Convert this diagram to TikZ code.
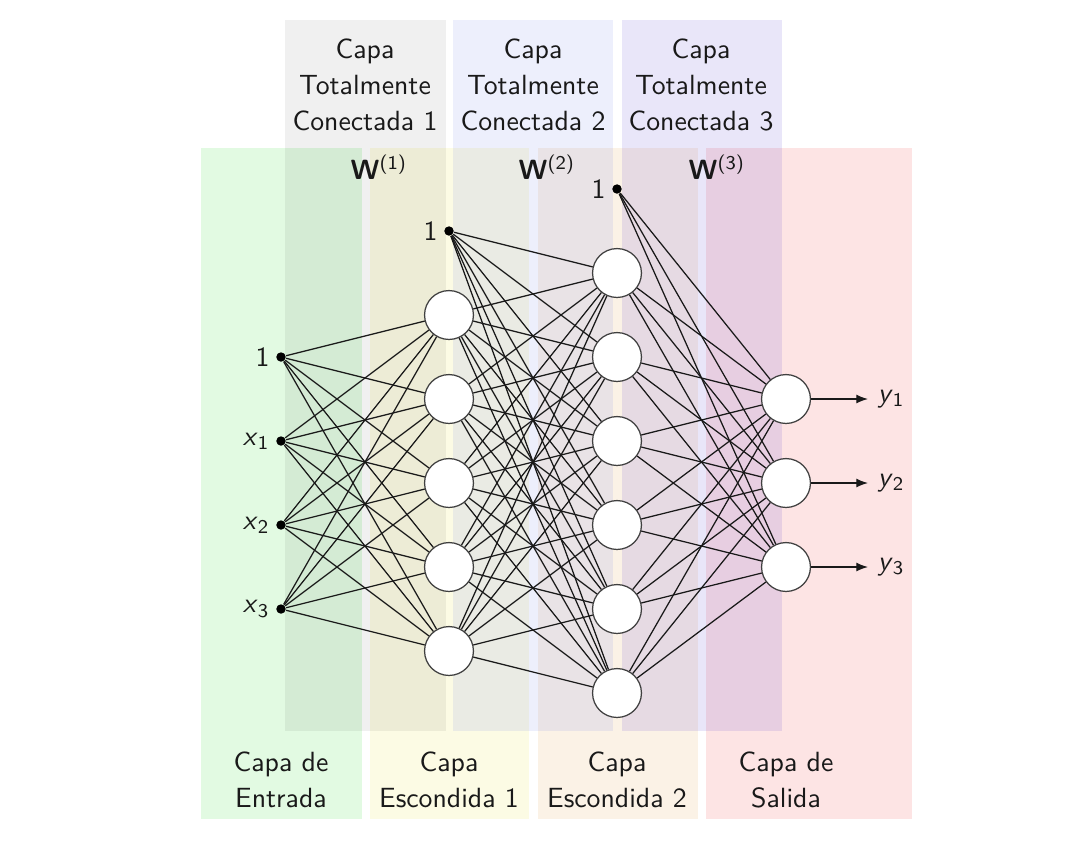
\documentclass[tikz,border=0pt]{standalone}
\usetikzlibrary{arrows.meta}
\definecolor{cgreen}{RGB}{226,250,226}
\definecolor{cyellow}{RGB}{252,251,228}
\definecolor{corange}{RGB}{251,242,230}
\definecolor{cred}{RGB}{253,228,228}
\definecolor{cblue}{RGB}{80,100,230}
\definecolor{cpurple}{RGB}{80,50,210}
\begin{document}
\begin{tikzpicture}[x=0.36pt,y=-0.36pt,
  font=\sffamily\fontsize{10}{13}\selectfont,
  neuron/.style={circle,draw=black!75,fill=white,line width=0.45pt,minimum size=17.6pt,inner sep=0pt},
  biasdot/.style={circle,fill=black,minimum size=3.4pt,inner sep=0pt},
  edge/.style={line width=0.45pt,black!90},
  outarrow/.style={line width=0.45pt,black!90,-{Latex[length=4.2pt,width=3.2pt]}},
  boxtitle/.style={align=center,text=black!90},
  lbl/.style={text=black!90}]
\useasboundingbox (0,0) rectangle (1072,844);
\fill[white] (0,0) rectangle (1072,844);
% layer backgrounds
\fill[cgreen] (201,148) rectangle (362,819);
\fill[cyellow] (370,148) rectangle (529,819);
\fill[corange] (538,148) rectangle (698,819);
\fill[cred] (706,148) rectangle (912,819);
% fully connected boxes
\fill[black,fill opacity=0.06] (285,20) rectangle (446,731);
\fill[cblue,fill opacity=0.10] (453,20) rectangle (613,731);
\fill[cpurple,fill opacity=0.12] (622,20) rectangle (782,731);
% titles
\node[boxtitle] (t1) at (365,85) {Capa\\Totalmente\\Conectada 1};
\node[boxtitle] (t2) at (533,85) {Capa\\Totalmente\\Conectada 2};
\node[boxtitle] (t3) at (701,85) {Capa\\Totalmente\\Conectada 3};
\node[boxtitle] (b1) at (281,780) {Capa de\\Entrada};
\node[boxtitle] (b2) at (449,780) {Capa\\Escondida 1};
\node[boxtitle] (b3) at (617,780) {Capa\\Escondida 2};
\node[boxtitle] (b4) at (786,780) {Capa de\\Salida};
\node[lbl] (w1) at (379,167) {\textbf{W}\textsuperscript{(1)}};
\node[lbl] (w2) at (547,167) {\textbf{W}\textsuperscript{(2)}};
\node[lbl] (w3) at (717,167) {\textbf{W}\textsuperscript{(3)}};
% input layer
\node[biasdot,label={[lbl,inner sep=2pt]left:1}] (i0) at (281,357) {};
\node[biasdot,label={[lbl,inner sep=2pt]left:\textit{x}\textsubscript{1}}] (i1) at (281,441) {};
\node[biasdot,label={[lbl,inner sep=2pt]left:\textit{x}\textsubscript{2}}] (i2) at (281,525) {};
\node[biasdot,label={[lbl,inner sep=2pt]left:\textit{x}\textsubscript{3}}] (i3) at (281,609) {};
% hidden 1
\node[biasdot,label={[lbl,inner sep=2pt]left:1}] (h0) at (449,231) {};
\foreach \n/\y in {1/315,2/399,3/483,4/567,5/651}
  \node[neuron] (h\n) at (449,\y) {};
% hidden 2
\node[biasdot,label={[lbl,inner sep=2pt]left:1}] (k0) at (617,189) {};
\foreach \n/\y in {1/273,2/357,3/441,4/525,5/609,6/693}
  \node[neuron] (k\n) at (617,\y) {};
% output
\foreach \n/\y in {1/399,2/483,3/567}
  \node[neuron] (o\n) at (786,\y) {};
% connections
\foreach \i in {0,...,3}
  \foreach \j in {1,...,5}
    \draw[edge] (i\i) -- (h\j);
\foreach \i in {0,...,5}
  \foreach \j in {1,...,6}
    \draw[edge] (h\i) -- (k\j);
\foreach \i in {0,...,6}
  \foreach \j in {1,2,3}
    \draw[edge] (k\i) -- (o\j);
% outputs
\foreach \n/\y in {1/399,2/483,3/567}{
  \coordinate (e\n) at (868,\y);
  \draw[outarrow] (o\n) -- (e\n);
  \node[lbl,right] (y\n) at (e\n) {\textit{y}\textsubscript{\n}};
}
\end{tikzpicture}
\end{document}
